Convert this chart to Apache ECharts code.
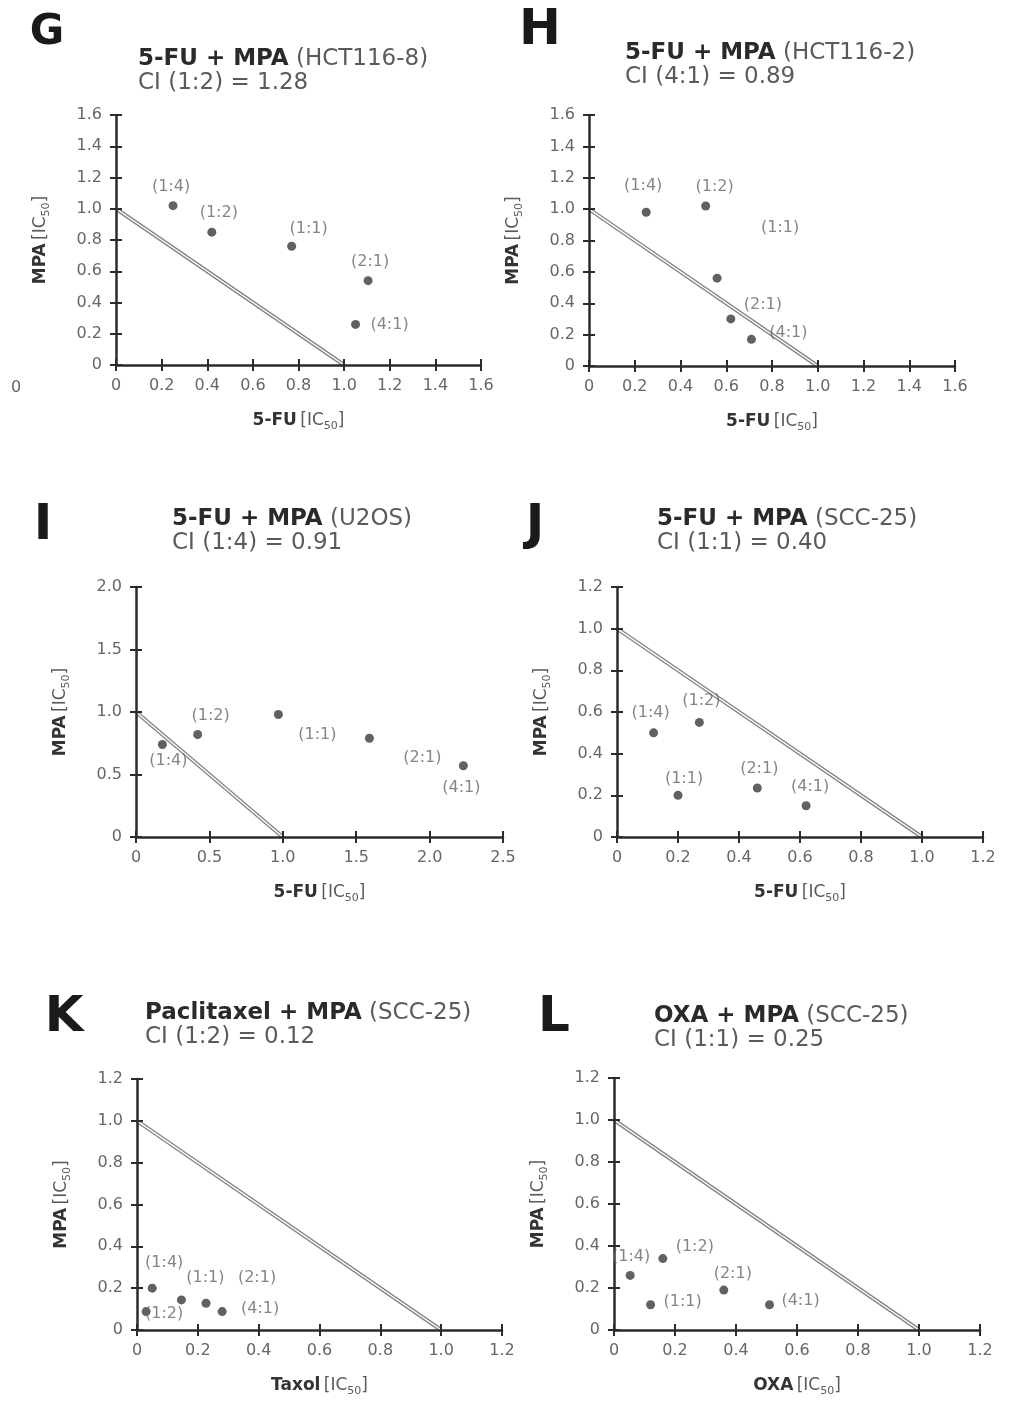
<!DOCTYPE html>
<html>
<head>
<meta charset="utf-8">
<script src="https://cdn.jsdelivr.net/npm/echarts@6/dist/echarts.min.js"></script>
<style>
    html, body { margin: 0; padding: 0; background: #fff; }
    #chart { width: 1014px; height: 1401px; }
</style>
</head>
<body>
<div id="chart"></div>
<script>
const ratios = ['(1:4)', '(1:2)', '(1:1)', '(2:1)', '(4:1)'];
const additivity = [[0, 1], [1, 0]];

// G: 5-FU + MPA (HCT116-8)
const gX = [0.25, 0.42, 0.77, 1.105, 1.05];
const gY = [1.02, 0.85, 0.76, 0.54, 0.26];
// H: 5-FU + MPA (HCT116-2)
const hX = [0.25, 0.51, 0.56, 0.62, 0.71];
const hY = [0.98, 1.02, 0.56, 0.30, 0.17];
// I: 5-FU + MPA (U2OS)
const iX = [0.18, 0.42, 0.97, 1.59, 2.23];
const iY = [0.74, 0.82, 0.98, 0.79, 0.57];
// J: 5-FU + MPA (SCC-25)
const jX = [0.12, 0.27, 0.20, 0.46, 0.62];
const jY = [0.50, 0.55, 0.20, 0.235, 0.15];
// K: Paclitaxel + MPA (SCC-25)
const kX = [0.05, 0.03, 0.146, 0.227, 0.28];
const kY = [0.20, 0.088, 0.144, 0.128, 0.088];
// L: OXA + MPA (SCC-25)
const lX = [0.053, 0.16, 0.12, 0.36, 0.51];
const lY = [0.26, 0.34, 0.12, 0.19, 0.12];

const ticks16 = [0, 0.2, 0.4, 0.6, 0.8, 1.0, 1.2, 1.4, 1.6];
const ticks12 = [0, 0.2, 0.4, 0.6, 0.8, 1.0, 1.2];
const ticks25 = [0, 0.5, 1.0, 1.5, 2.0, 2.5];
const ticks20 = [0, 0.5, 1.0, 1.5, 2.0];

const FONT = '"DejaVu Sans", "Liberation Sans", sans-serif';
const AXIS_COLOR = '#2b2b2b';
const TEXT_COLOR = '#5a5a5a';

const nameRich = {
    b: { fontFamily: FONT, fontSize: 17, fontWeight: 'bold', color: '#333' },
    n: { fontFamily: FONT, fontSize: 17, fontWeight: 'normal', color: TEXT_COLOR },
    s: { fontFamily: FONT, fontSize: 11, fontWeight: 'normal', color: TEXT_COLOR, verticalAlign: 'top', padding: [11, 0, 0, 0] },
};

const tickFmt = v => (v === 0 ? '0' : v.toFixed(1));

const panels = [
    {
        letter: 'G', letterPos: [47, 33], letterSize: 42,
        title: ['5-FU + MPA', '(HCT116-8)', 'CI (1:2) = 1.28'], titlePos: [138, 47],
        grid: { left: 116, top: 115, width: 365, height: 250 },
        xTicks: ticks16, yTicks: ticks16, xName: '5-FU',
        xs: gX, ys: gY,
        offsets: [[-2, -19], [7, -19], [17, -17], [2, -19], [34, 0]],
    },
    {
        letter: 'H', letterPos: [540, 31], letterSize: 50,
        title: ['5-FU + MPA', '(HCT116-2)', 'CI (4:1) = 0.89'], titlePos: [625, 41],
        grid: { left: 589, top: 115, width: 366, height: 251 },
        xTicks: ticks16, yTicks: ticks16, xName: '5-FU',
        xs: hX, ys: hY,
        offsets: [[-3, -26], [9, -19], [63, -50], [32, -14], [37, -6]],
    },
    {
        letter: 'I', letterPos: [43, 526], letterSize: 50,
        title: ['5-FU + MPA', '(U2OS)', 'CI (1:4) = 0.91'], titlePos: [172, 507],
        grid: { left: 136, top: 587, width: 367, height: 250 },
        xTicks: ticks25, yTicks: ticks20, xName: '5-FU',
        xs: iX, ys: iY,
        offsets: [[6, 16], [13, -19], [39, 20], [53, 20], [-2, 22]],
    },
    {
        letter: 'J', letterPos: [535, 526], letterSize: 50,
        title: ['5-FU + MPA', '(SCC-25)', 'CI (1:1) = 0.40'], titlePos: [657, 507],
        grid: { left: 617, top: 587, width: 366, height: 250 },
        xTicks: ticks12, yTicks: ticks12, xName: '5-FU',
        xs: jX, ys: jY,
        offsets: [[-3, -20], [2, -22], [6, -16], [2, -19], [4, -19]],
    },
    {
        letter: 'K', letterPos: [64, 1018], letterSize: 50,
        title: ['Paclitaxel + MPA', '(SCC-25)', 'CI (1:2) = 0.12'], titlePos: [145, 1001],
        grid: { left: 137, top: 1079, width: 365, height: 251 },
        xTicks: ticks12, yTicks: ticks12, xName: 'Taxol',
        xs: kX, ys: kY,
        offsets: [[12, -25], [18, 2], [24, -22], [51, -25], [38, -3]],
    },
    {
        letter: 'L', letterPos: [554, 1018], letterSize: 50,
        title: ['OXA + MPA', '(SCC-25)', 'CI (1:1) = 0.25'], titlePos: [654, 1004],
        grid: { left: 614, top: 1078, width: 366, height: 252 },
        xTicks: ticks12, yTicks: ticks12, xName: 'OXA',
        xs: lX, ys: lY,
        offsets: [[1, -19], [32, -12], [32, -3], [9, -16], [31, -4]],
    },
];

const grid = [];
const xAxis = [];
const yAxis = [];
const series = [];
const title = [];
const graphic = [];

const mainAxis = (gi, ticksArr, isX, name) => ({
    type: 'value',
    gridIndex: gi,
    position: isX ? 'bottom' : 'left',
    min: ticksArr[0],
    max: ticksArr[ticksArr.length - 1],
    interval: ticksArr[1] - ticksArr[0],
    z: 5,
    axisLine: { show: true, onZero: false, lineStyle: { color: AXIS_COLOR, width: 2.5 } },
    axisTick: { show: true, length: 6, lineStyle: { color: AXIS_COLOR, width: 2 } },
    axisLabel: {
        formatter: tickFmt,
        fontFamily: FONT,
        fontSize: 16,
        color: '#666',
        margin: isX ? 13 : 14,
    },
    splitLine: { show: false },
    name: isX ? `{b|${name}} {n|[IC}{s|50}{n|]}` : '{b|MPA} {n|[IC}{s|50}{n|]}',
    nameLocation: 'middle',
    nameGap: isX ? 45 : 64,
    nameTextStyle: { rich: nameRich },
});

// second axis on the same grid only to draw the inner half of the cross ticks
const innerAxis = (gi, ticksArr, isX) => ({
    type: 'value',
    gridIndex: gi,
    position: isX ? 'bottom' : 'left',
    offset: 0,
    min: ticksArr[0],
    max: ticksArr[ticksArr.length - 1],
    interval: ticksArr[1] - ticksArr[0],
    z: 5,
    axisLine: { show: false, onZero: false },
    axisTick: { show: true, inside: true, length: 6, lineStyle: { color: AXIS_COLOR, width: 2 } },
    axisLabel: { show: false },
    splitLine: { show: false },
});

panels.forEach((p, gi) => {
    grid.push({ ...p.grid, containLabel: false });
    xAxis.push(mainAxis(gi, p.xTicks, true, p.xName));
    xAxis.push(innerAxis(gi, p.xTicks, true));
    yAxis.push(mainAxis(gi, p.yTicks, false));
    yAxis.push(innerAxis(gi, p.yTicks, false));
    const xi = gi * 2;
    const yi = gi * 2;

    series.push({
        type: 'line',
        xAxisIndex: xi,
        yAxisIndex: yi,
        data: additivity,
        symbol: 'none',
        silent: true,
        z: 2,
        lineStyle: { color: '#858585', width: 4 },
    });
    series.push({
        type: 'line',
        xAxisIndex: xi,
        yAxisIndex: yi,
        data: additivity,
        symbol: 'none',
        silent: true,
        z: 3,
        lineStyle: { color: '#fff', width: 1.4 },
    });
    series.push({
        type: 'scatter',
        xAxisIndex: xi,
        yAxisIndex: yi,
        symbolSize: 9,
        z: 6,
        itemStyle: { color: '#3a3a3a' },
        label: {
            show: true,
            position: 'inside',
            formatter: '{b}',
            fontFamily: FONT,
            fontSize: 16,
            color: '#666',
        },
        data: p.xs.map((x, k) => ({
            name: ratios[k],
            value: [x, p.ys[k]],
            label: { offset: p.offsets[k] },
        })),
    });

    title.push({
        left: p.titlePos[0],
        top: p.titlePos[1],
        padding: 0,
        text: `{b|${p.title[0]}}{n| ${p.title[1]}}\n{n|${p.title[2]}}`,
        textStyle: {
            fontWeight: 'normal',
            rich: {
                b: { fontFamily: FONT, fontSize: 23, fontWeight: 'bold', color: '#2a2a2a', lineHeight: 24 },
                n: { fontFamily: FONT, fontSize: 23, fontWeight: 'normal', color: TEXT_COLOR, lineHeight: 24 },
            },
        },
    });

    graphic.push({
        type: 'text',
        x: p.letterPos[0],
        y: p.letterPos[1],
        style: {
            text: p.letter,
            font: `bold ${p.letterSize}px ${FONT}`,
            fill: '#1a1a1a',
            align: 'center',
            verticalAlign: 'middle',
        },
    });
});

// stray tick label left over from the neighbouring figure
graphic.push({
    type: 'text',
    x: 16,
    y: 388,
    style: { text: '0', font: `16px ${FONT}`, fill: '#666', align: 'center', verticalAlign: 'middle' },
});

const chart = echarts.init(document.getElementById('chart'));
chart.setOption({
    backgroundColor: '#fff',
    animation: false,
    title,
    grid,
    xAxis,
    yAxis,
    series,
    graphic,
});
</script>
</body>
</html>
